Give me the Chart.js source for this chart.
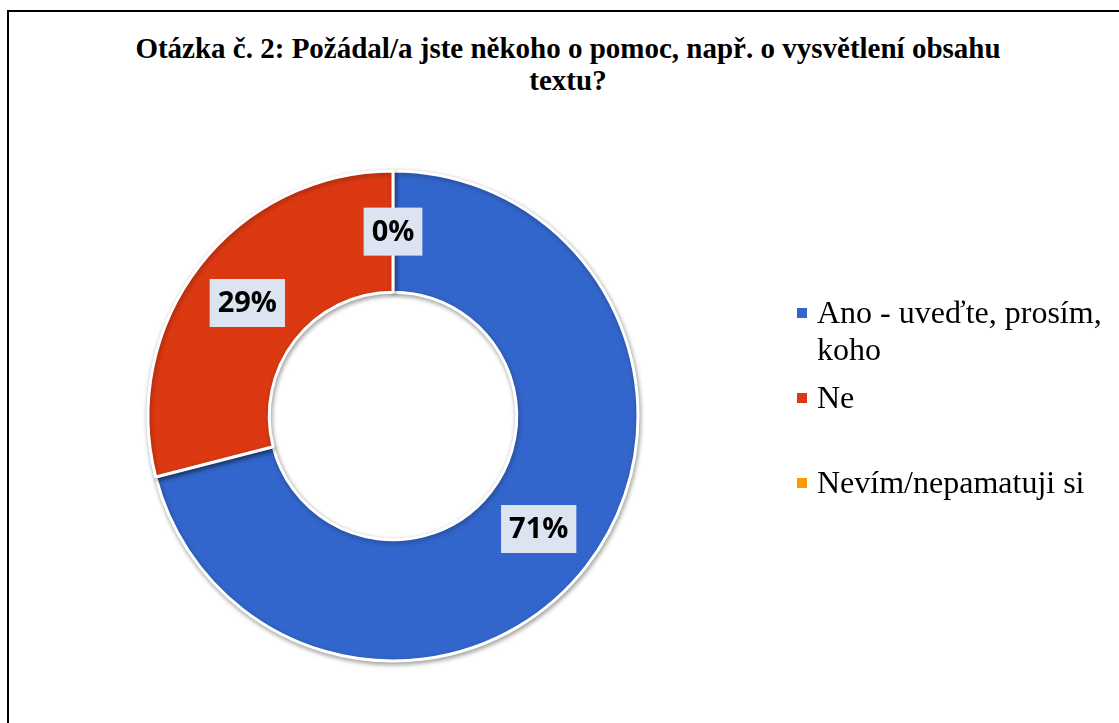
<!DOCTYPE html>
<html>
<head>
<meta charset="utf-8">
<script src="https://cdn.jsdelivr.net/npm/chart.js@4"></script>
<style>
    body { margin: 0; width: 1119px; height: 723px; overflow: hidden; background: #fff; position: relative; }
    #frame { position: absolute; left: 7px; top: 10px; width: 1130px; height: 730px; border: 2px solid #000; }
    #title { position: absolute; left: 9px; width: 1118px; top: 32px; text-align: center;
             font: bold 29px 'Liberation Serif', serif; line-height: 32px; color: #000; }
    #chartBox { position: absolute; left: 0; top: 0; width: 800px; height: 723px; }
    .legend { position: absolute; left: 797px; font: 32px 'Liberation Serif', serif; line-height: 37px; color: #000; }
    .legend .mark { position: absolute; left: 0; width: 10px; height: 10px; }
    .legend .txt { position: absolute; left: 20px; white-space: nowrap; }
</style>
</head>
<body>
<div id="frame"></div>
<div id="title"></div>
<div id="chartBox"><canvas id="myChart"></canvas></div>
<div id="legend"></div>

<script>
// data
const titleLines = ['Otázka č. 2: Požádal/a jste někoho o pomoc, např. o vysvětlení obsahu', 'textu?'];
const kategori = ['Ano - uveďte, prosím, koho', 'Ne', 'Nevím/nepamatuji si'];
const legendLines = [['Ano - uveďte, prosím,', 'koho'], ['Ne'], ['Nevím/nepamatuji si']];
const nilai = [71, 29, 0];
const warna = ['#3366cc', '#dc3912', '#ff9900'];

document.getElementById('title').innerHTML = titleLines.join('<br>');

// legend (html)
const legendTop = [294, 379, 464];
const legend = document.getElementById('legend');
kategori.forEach((k, i) => {
    const item = document.createElement('div');
    item.className = 'legend';
    item.style.top = legendTop[i] + 'px';
    item.innerHTML = `<span class="mark" style="background:${warna[i]};top:14px"></span>` +
        `<span class="txt">${legendLines[i].join('<br>')}</span>`;
    legend.appendChild(item);
});

// label persen di tengah tiap potongan
const labelPlugin = {
    id: 'labelPersen',
    beforeDatasetDraw(chart) {
        const ctx = chart.ctx;
        ctx.save();
        ctx.shadowColor = 'rgba(0,0,0,0.35)';
        ctx.shadowBlur = 5;
        ctx.shadowOffsetX = 1;
        ctx.shadowOffsetY = 2;
    },
    afterDatasetDraw(chart) {
        chart.ctx.restore();
    },
    afterDatasetsDraw(chart) {
        const ctx = chart.ctx;
        const meta = chart.getDatasetMeta(0);
        const total = nilai.reduce((a, b) => a + b, 0);
        ctx.save();
        ctx.font = 'bold 29px "Open Sans", sans-serif';
        ctx.textAlign = 'center';
        ctx.textBaseline = 'middle';
        meta.data.forEach((arc, i) => {
            const pos = arc.tooltipPosition();
            const teks = Math.round(nilai[i] / total * 100) + '%';
            const w = ctx.measureText(teks).width + 16;
            const h = 48;
            ctx.fillStyle = '#dbe4f0';
            ctx.fillRect(pos.x - w / 2, pos.y - h / 2, w, h);
            ctx.fillStyle = '#000';
            ctx.fillText(teks, pos.x, pos.y + 1);
        });
        ctx.restore();
    }
};

const ctx = document.getElementById('myChart').getContext('2d');
new Chart(ctx, {
    type: 'doughnut',
    data: {
        labels: kategori,
        datasets: [{
            data: nilai,
            backgroundColor: warna,
            borderColor: '#ffffff',
            borderWidth: 3,
            hoverOffset: 0
        }]
    },
    options: {
        responsive: true,
        maintainAspectRatio: false,
        animation: false,
        radius: 245,
        cutout: 123,
        layout: { padding: { left: 148, right: 162, top: 171, bottom: 62 } },
        plugins: {
            legend: { display: false },
            tooltip: { enabled: false }
        }
    },
    plugins: [labelPlugin]
});
</script>
</body>
</html>
